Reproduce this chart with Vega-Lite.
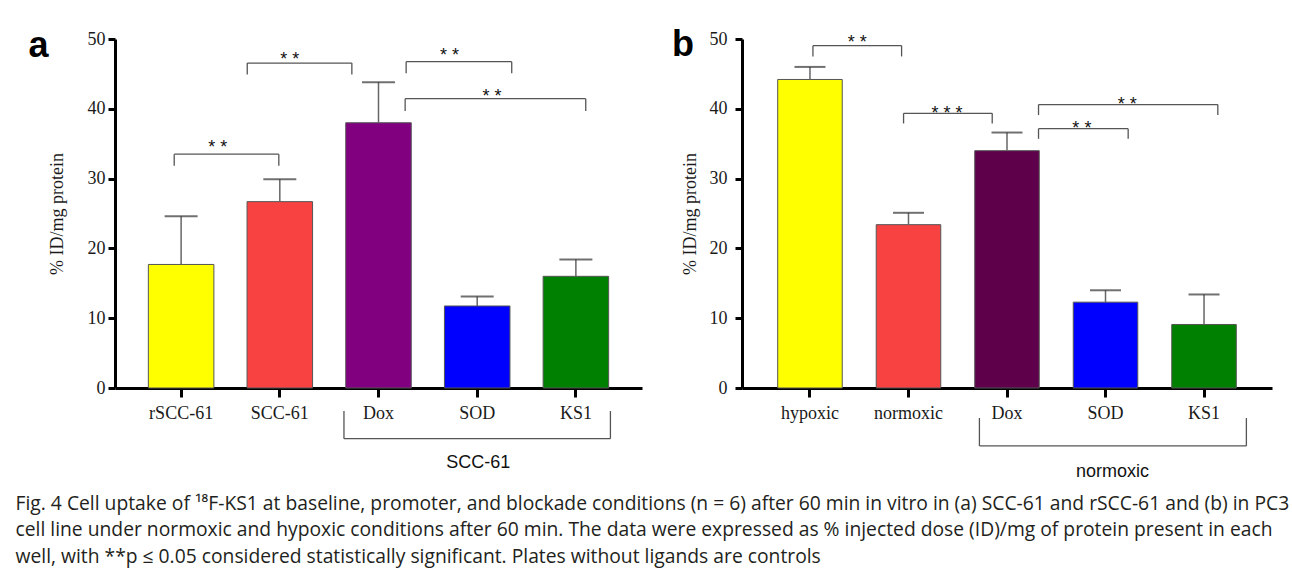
{
  "$schema": "https://vega.github.io/schema/vega-lite/v6.json",
  "padding": {"left": 15, "top": 27, "right": 0, "bottom": 0},
  "background": "white",
  "spacing": 29,
  "resolve": {"scale": {"color": "independent"}},
  "title": {
    "text": [
      "Fig. 4 Cell uptake of ¹⁸F-KS1 at baseline, promoter, and blockade conditions (n = 6) after 60 min in vitro in (a) SCC-61 and rSCC-61 and (b) in PC3",
      "cell line under normoxic and hypoxic conditions after 60 min. The data were expressed as % injected dose (ID)/mg of protein present in each",
      "well, with **p ≤ 0.05 considered statistically significant. Plates without ligands are controls"
    ],
    "orient": "bottom",
    "anchor": "start",
    "frame": "bounds",
    "font": "Open Sans",
    "fontSize": 19.3,
    "fontWeight": "normal",
    "color": "#231f20",
    "lineHeight": 26.5,
    "baseline": "alphabetic",
    "offset": 29,
    "dx": -13
  },
  "datasets": {
    "barsA": [
      {"group": "rSCC-61", "mean": 17.7, "upper": 24.6},
      {"group": "SCC-61", "mean": 26.7, "upper": 29.9},
      {"group": "Dox", "mean": 38.0, "upper": 43.8},
      {"group": "SOD", "mean": 11.75, "upper": 13.1},
      {"group": "KS1", "mean": 16.0, "upper": 18.4}
    ],
    "bracketsA": [
      {"x1": -0.07, "x2": 0.99, "bar": 33.5, "tip": 31.85},
      {"x1": 0.67, "x2": 1.73, "bar": 46.55, "tip": 44.9},
      {"x1": 2.28, "x2": 3.35, "bar": 46.75, "tip": 45.1},
      {"x1": 2.27, "x2": 4.1, "bar": 41.45, "tip": 39.7},
      {"x1": 1.65, "x2": 4.35, "bar": -7.26, "tip": -3.3}
    ],
    "starsA": [
      {"x": 0.37, "y": 35.1, "label": "* *"},
      {"x": 1.1, "y": 47.65, "label": "* *"},
      {"x": 2.72, "y": 48.25, "label": "* *"},
      {"x": 3.15, "y": 42.45, "label": "* *"}
    ],
    "groupA": [
      {"x": 3.01, "y": -10.7, "label": "SCC-61"}
    ],
    "panelA": [
      {"x": -1.445, "y": 47.4, "label": "a"}
    ],
    "barsB": [
      {"group": "hypoxic", "mean": 44.2, "upper": 46.0},
      {"group": "normoxic", "mean": 23.4, "upper": 25.1},
      {"group": "Dox", "mean": 34.0, "upper": 36.6},
      {"group": "SOD", "mean": 12.3, "upper": 14.0},
      {"group": "KS1", "mean": 9.1, "upper": 13.4}
    ],
    "bracketsB": [
      {"x1": 0.03, "x2": 0.93, "bar": 49.05, "tip": 47.5},
      {"x1": 0.95, "x2": 1.85, "bar": 39.35, "tip": 37.9},
      {"x1": 2.32, "x2": 4.14, "bar": 40.6, "tip": 39.1},
      {"x1": 2.32, "x2": 3.23, "bar": 37.15, "tip": 35.7},
      {"x1": 1.72, "x2": 4.43, "bar": -8.3, "tip": -4.3}
    ],
    "starsB": [
      {"x": 0.48, "y": 50.15, "label": "* *"},
      {"x": 1.39, "y": 40.0, "label": "* * *"},
      {"x": 3.22, "y": 41.3, "label": "* *"},
      {"x": 2.76, "y": 37.8, "label": "* *"}
    ],
    "groupB": [
      {"x": 3.07, "y": -12.0, "label": "normoxic"}
    ],
    "panelB": [
      {"x": -1.29, "y": 47.5, "label": "b"}
    ]
  },
  "hconcat": [
    {
      "width": 527,
      "height": 349,
      "layer": [
        {
          "data": {"name": "barsA"},
          "layer": [
            {
              "mark": {"type": "bar", "width": {"band": 0.664}, "stroke": "#555", "strokeWidth": 1},
              "encoding": {
                "x": {"field": "group", "type": "nominal", "sort": null, "scale": {"paddingInner": 0, "paddingOuter": 0.17}, "axis": {"title": null, "labelAngle": 0}},
                "y": {"field": "mean", "type": "quantitative", "scale": {"domain": [0, 50], "nice": false}, "axis": {"values": [0, 10, 20, 30, 40, 50], "title": "% ID/mg protein", "titlePadding": 21, "labelPadding": 3}},
                "color": {"field": "group", "type": "nominal", "scale": {"domain": ["rSCC-61", "SCC-61", "Dox", "SOD", "KS1"], "range": ["#ffff00", "#f84242", "#800080", "#0000ff", "#008000"]}, "legend": null}
              }
            },
            {
              "mark": {"type": "rule", "color": "#666", "strokeWidth": 1.5},
              "encoding": {
                "x": {"field": "group", "type": "nominal", "sort": null},
                "y": {"field": "mean", "type": "quantitative"},
                "y2": {"field": "upper"}
              }
            },
            {
              "mark": {"type": "tick", "color": "#333", "thickness": 2, "size": 33},
              "encoding": {
                "x": {"field": "group", "type": "nominal", "sort": null},
                "y": {"field": "upper", "type": "quantitative"}
              }
            }
          ]
        },
        {
          "layer": [
            {
              "data": {"name": "bracketsA"},
              "mark": {"type": "rule", "color": "#555", "strokeWidth": 1.3},
              "encoding": {
                "x": {"field": "x1", "type": "quantitative", "scale": {"domain": [-0.67, 4.67], "nice": false, "zero": false}, "axis": null},
                "x2": {"field": "x2"},
                "y": {"field": "bar", "type": "quantitative"}
              }
            },
            {
              "data": {"name": "bracketsA"},
              "mark": {"type": "rule", "color": "#555", "strokeWidth": 1.3},
              "encoding": {
                "x": {"field": "x1", "type": "quantitative"},
                "y": {"field": "bar", "type": "quantitative"},
                "y2": {"field": "tip"}
              }
            },
            {
              "data": {"name": "bracketsA"},
              "mark": {"type": "rule", "color": "#555", "strokeWidth": 1.3},
              "encoding": {
                "x": {"field": "x2", "type": "quantitative"},
                "y": {"field": "bar", "type": "quantitative"},
                "y2": {"field": "tip"}
              }
            },
            {
              "data": {"name": "starsA"},
              "mark": {"type": "text", "font": "Liberation Sans", "fontSize": 18, "baseline": "alphabetic", "dy": 10, "color": "#111"},
              "encoding": {
                "x": {"field": "x", "type": "quantitative"},
                "y": {"field": "y", "type": "quantitative"},
                "text": {"field": "label"}
              }
            },
            {
              "data": {"name": "groupA"},
              "mark": {"type": "text", "font": "Liberation Sans", "fontSize": 18, "baseline": "middle", "color": "#111"},
              "encoding": {
                "x": {"field": "x", "type": "quantitative"},
                "y": {"field": "y", "type": "quantitative"},
                "text": {"field": "label"}
              }
            },
            {
              "data": {"name": "panelA"},
              "mark": {"type": "text", "font": "Liberation Sans", "fontSize": 36, "fontWeight": "bold", "baseline": "alphabetic", "align": "center", "color": "#000"},
              "encoding": {
                "x": {"field": "x", "type": "quantitative"},
                "y": {"field": "y", "type": "quantitative"},
                "text": {"field": "label"}
              }
            }
          ]
        }
      ],
      "resolve": {"scale": {"x": "independent"}}
    },
    {
      "width": 530,
      "height": 349,
      "layer": [
        {
          "data": {"name": "barsB"},
          "layer": [
            {
              "mark": {"type": "bar", "width": {"band": 0.655}, "stroke": "#555", "strokeWidth": 1},
              "encoding": {
                "x": {"field": "group", "type": "nominal", "sort": null, "scale": {"paddingInner": 0, "paddingOuter": 0.19}, "axis": {"title": null, "labelAngle": 0}},
                "y": {"field": "mean", "type": "quantitative", "scale": {"domain": [0, 50], "nice": false}, "axis": {"values": [0, 10, 20, 30, 40, 50], "title": "% ID/mg protein", "titlePadding": 10, "labelPadding": 8}},
                "color": {"field": "group", "type": "nominal", "scale": {"domain": ["hypoxic", "normoxic", "Dox", "SOD", "KS1"], "range": ["#ffff00", "#f84242", "#5f004b", "#0000ff", "#008000"]}, "legend": null}
              }
            },
            {
              "mark": {"type": "rule", "color": "#666", "strokeWidth": 1.5},
              "encoding": {
                "x": {"field": "group", "type": "nominal", "sort": null},
                "y": {"field": "mean", "type": "quantitative"},
                "y2": {"field": "upper"}
              }
            },
            {
              "mark": {"type": "tick", "color": "#333", "thickness": 2, "size": 31},
              "encoding": {
                "x": {"field": "group", "type": "nominal", "sort": null},
                "y": {"field": "upper", "type": "quantitative"}
              }
            }
          ]
        },
        {
          "layer": [
            {
              "data": {"name": "bracketsB"},
              "mark": {"type": "rule", "color": "#555", "strokeWidth": 1.3},
              "encoding": {
                "x": {"field": "x1", "type": "quantitative", "scale": {"domain": [-0.69, 4.69], "nice": false, "zero": false}, "axis": null},
                "x2": {"field": "x2"},
                "y": {"field": "bar", "type": "quantitative"}
              }
            },
            {
              "data": {"name": "bracketsB"},
              "mark": {"type": "rule", "color": "#555", "strokeWidth": 1.3},
              "encoding": {
                "x": {"field": "x1", "type": "quantitative"},
                "y": {"field": "bar", "type": "quantitative"},
                "y2": {"field": "tip"}
              }
            },
            {
              "data": {"name": "bracketsB"},
              "mark": {"type": "rule", "color": "#555", "strokeWidth": 1.3},
              "encoding": {
                "x": {"field": "x2", "type": "quantitative"},
                "y": {"field": "bar", "type": "quantitative"},
                "y2": {"field": "tip"}
              }
            },
            {
              "data": {"name": "starsB"},
              "mark": {"type": "text", "font": "Liberation Sans", "fontSize": 18, "baseline": "alphabetic", "dy": 10, "color": "#111"},
              "encoding": {
                "x": {"field": "x", "type": "quantitative"},
                "y": {"field": "y", "type": "quantitative"},
                "text": {"field": "label"}
              }
            },
            {
              "data": {"name": "groupB"},
              "mark": {"type": "text", "font": "Liberation Sans", "fontSize": 18, "baseline": "middle", "color": "#111"},
              "encoding": {
                "x": {"field": "x", "type": "quantitative"},
                "y": {"field": "y", "type": "quantitative"},
                "text": {"field": "label"}
              }
            },
            {
              "data": {"name": "panelB"},
              "mark": {"type": "text", "font": "Liberation Sans", "fontSize": 36, "fontWeight": "bold", "baseline": "alphabetic", "align": "center", "color": "#000"},
              "encoding": {
                "x": {"field": "x", "type": "quantitative"},
                "y": {"field": "y", "type": "quantitative"},
                "text": {"field": "label"}
              }
            }
          ]
        }
      ],
      "resolve": {"scale": {"x": "independent"}}
    }
  ],
  "config": {
    "view": {"stroke": null},
    "axis": {
      "grid": false,
      "labelFont": "Liberation Serif",
      "labelFontSize": 18,
      "labelColor": "#1a1a1a",
      "domainColor": "#000",
      "domainWidth": 3,
      "tickColor": "#000",
      "tickWidth": 3,
      "titleFont": "Liberation Serif",
      "titleFontSize": 18,
      "titleFontWeight": "normal",
      "titleColor": "#1a1a1a"
    },
    "axisX": {"tickSize": 9, "labelPadding": 7},
    "axisY": {"tickSize": 7}
  }
}
